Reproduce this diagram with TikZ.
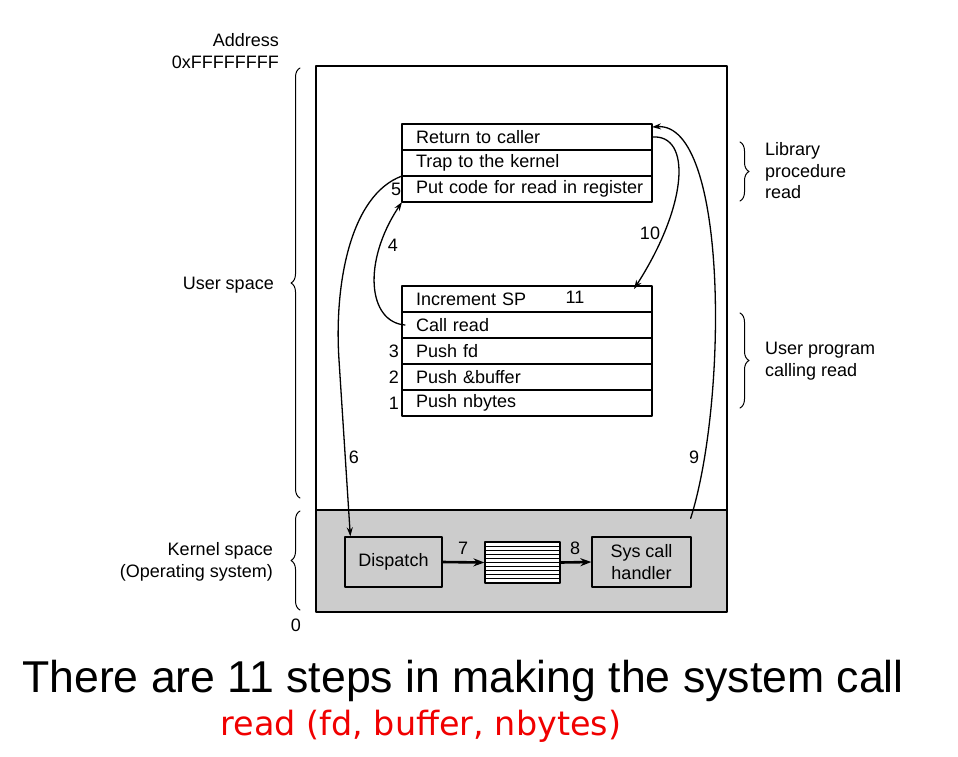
\documentclass[tikz,border=0pt]{standalone}
\usepackage{fontspec}
\setmainfont{Liberation Sans}
\newfontfamily\capfont{DejaVu Sans}
\usetikzlibrary{arrows.meta,decorations.pathreplacing}
\definecolor{kgray}{RGB}{204,204,204}
\definecolor{capred}{RGB}{240,0,0}

\begin{document}
\begin{tikzpicture}[
        x=1pt, y=-1pt,
        line cap=round,
        line join=round,
        every node/.style={font=\fontsize{18}{21.5}\selectfont, inner sep=0pt},
        stackrow/.style={draw, line width=1.2pt, minimum width=250pt, minimum height=26pt,
            outer sep=0pt, text width=236pt, inner xsep=7pt, align=left, anchor=north west,
            execute at begin node=\hspace*{7pt}},
        kbox/.style={draw, fill=kgray, line width=1.3pt, minimum height=50pt, align=center},
        flow/.style={-{Stealth[length=9pt,width=6pt]}, line width=1.3pt},
        bigflow/.style={-{Stealth[length=11pt,width=8pt]}, line width=2.6pt},
        spacebrace/.style={decorate, decoration={brace, amplitude=9pt}, line width=1pt}
    ]
        \useasboundingbox (0,0) rectangle (958,756);
        % Memory column, kernel part shaded
        \fill[kgray] (316,510) rectangle (727,612);
        \draw[line width=1.2pt] (316,510) -- (727,510);
        \draw[line width=1.8pt] (316,66) rectangle (727,612);
        % Library procedure read
        \node[stackrow] (ret) at (402,124) {Return to caller};
        \node[stackrow] (trap) at (ret.south west) {Trap to the kernel};
        \node[stackrow] (putcode) at (trap.south west) {Put code for read in register};
        % User program calling read
        \node[stackrow] (incsp) at (402,286) {Increment SP};
        \node[stackrow] (callrd) at (incsp.south west) {Call read};
        \node[stackrow] (pushfd) at (callrd.south west) {Push fd};
        \node[stackrow] (pushbuf) at (pushfd.south west) {Push \&buffer};
        \node[stackrow] (pushnb) at (pushbuf.south west) {Push nbytes};
        % Kernel boxes
        \node[kbox, minimum width=97pt] (disp) at (393.5,562) {Dispatch};
        \node[kbox, minimum width=99pt] (hdl) at (641.5,562) {Sys call\\handler};
        \node[draw, fill=white, line width=1.2pt, minimum width=75pt, minimum height=41pt] (tbl) at (522.5,562.5) {};
        \foreach \k in {1,...,9}{
            \draw[line width=1pt] (485,542+\k*4.1) -- (560,542+\k*4.1);
        }
        % Steps
        \draw[bigflow] (disp.east) -- (tbl.west);
        \draw[bigflow] (tbl.east) -- (hdl.west);
        \draw[flow] (trap.south west) .. controls (350,195) and (334,285) .. (339,360)
            -- ([xshift=6pt]disp.north west);
        \draw[flow] ([xshift=3pt]callrd.west) .. controls (368,322) and (362,262) .. (putcode.south west);
        \draw[flow] ([xshift=-1pt,yshift=18pt]hdl.north east) .. controls (728,400) and (728,122) .. ([yshift=-3pt]ret.north east);
        \draw[flow] (ret.east) .. controls (692,134) and (688,205) .. ([xshift=-18pt,yshift=-3pt]incsp.north east);
        % Step numbers
        \node (n1) at (394,403) {1};
        \node (n2) at (394,377) {2};
        \node (n3) at (394,351) {3};
        \node (n4) at (393,245) {4};
        \node (n5) at (396,189) {5};
        \node (n6) at (354,457) {6};
        \node (n7) at (463,548) {7};
        \node (n8) at (575,548) {8};
        \node (n9) at (694,457) {9};
        \node (n10) at (650,233) {10};
        \node (n11) at (575,297) {11};
        % Braces and labels
        \draw[spacebrace] (300,498) -- (300,68);
        \draw[spacebrace] (300,610) -- (300,511);
        \draw[spacebrace] (740,142) -- (740,201);
        \draw[spacebrace] (740,313) -- (740,408);
        \node[anchor=east] (addr) at (279,40) {Address};
        \node[anchor=east] (top) at (279,62) {0xFFFFFFFF};
        \node[anchor=east] (bottom) at (301,625) {0};
        \node[anchor=east] (uspace) at (274,285) {User space};
        \node[anchor=east, align=right] (kspace) at (273,562) {Kernel space\\(Operating system)};
        \node[anchor=west, align=left] (libread) at (765,171) {Library\\procedure\\read};
        \node[anchor=west, align=left] (uprog) at (765,361) {User program\\calling read};
        % Caption
        \node[anchor=base, font=\fontsize{44.6}{50}\selectfont] (caption) at (463,692) {There are 11 steps in making the system call};
        \node[anchor=base, font=\capfont\fontsize{33.4}{40}\selectfont, text=capred] (callsig) at (421,735) {read (fd, buffer, nbytes)};
    \end{tikzpicture}
\end{document}
